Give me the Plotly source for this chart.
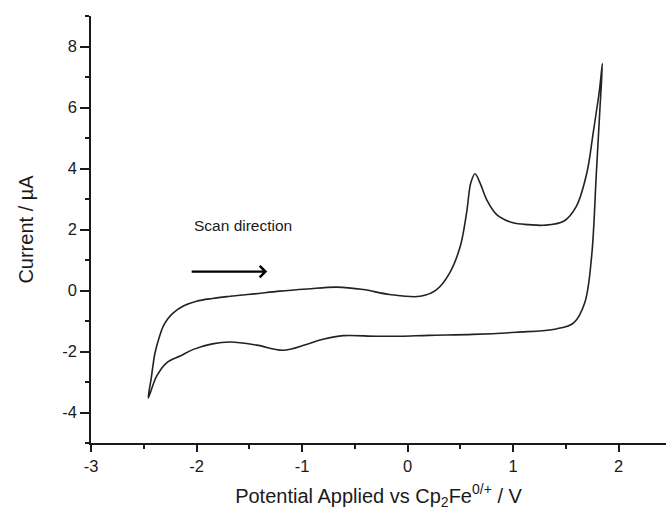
import plotly.graph_objects as go

# Forward (upper) scan branch
potential_fwd = [-2.457, -2.43, -2.393, -2.35, -2.315, -2.27, -2.22, -2.12, -2.0, -1.85,
                 -1.68, -1.45, -1.21, -0.95, -0.67, -0.42, -0.17, 0.12, 0.276, 0.40,
                 0.50, 0.56, 0.60, 0.64, 0.687, 0.75, 0.845, 1.0, 1.15, 1.29,
                 1.48, 1.60, 1.70, 1.76, 1.82, 1.847]
current_fwd = [-3.52, -2.9, -2.04, -1.5, -1.17, -0.92, -0.73, -0.5, -0.35, -0.26,
               -0.19, -0.11, -0.02, 0.05, 0.11, 0.03, -0.13, -0.19, 0.03, 0.58,
               1.45, 2.55, 3.53, 3.83, 3.53, 2.98, 2.49, 2.22, 2.16, 2.14,
               2.27, 2.76, 3.86, 5.17, 6.59, 7.44]

# Reverse (lower) scan branch
potential_rev = [1.847, 1.825, 1.79, 1.745, 1.68, 1.575, 1.41, 1.03, 0.62, 0.2,
                 -0.07, -0.3, -0.61, -0.8, -0.96, -1.18, -1.43, -1.68, -1.85, -2.03,
                 -2.156, -2.283, -2.378, -2.457]
current_rev = [7.44, 6.04, 3.86, 1.12, -0.40, -1.06, -1.26, -1.37, -1.44, -1.47,
               -1.50, -1.50, -1.48, -1.6, -1.77, -1.96, -1.79, -1.69, -1.75, -1.93,
               -2.15, -2.37, -2.81, -3.52]

x_ticks = [-3, -2, -1, 0, 1, 2]
y_ticks = [-4, -2, 0, 2, 4, 6, 8]

FONT = "Liberation Sans, Arial, sans-serif"
INK = "#1a1a1a"

fig = go.Figure()
fig.add_trace(go.Scatter(
    x=potential_fwd + potential_rev[1:],
    y=current_fwd + current_rev[1:],
    mode="lines",
    line=dict(color="#222222", width=1.6, shape="spline", smoothing=1.0),
    showlegend=False,
    hoverinfo="skip",
))

fig.add_annotation(
    x=-2.04, y=2.14, xref="x", yref="y",
    text="Scan direction", showarrow=False,
    xanchor="left", yanchor="middle",
    font=dict(family=FONT, size=15.5, color=INK),
)
fig.add_annotation(
    x=-1.33, y=0.62, ax=-2.06, ay=0.62,
    xref="x", yref="y", axref="x", ayref="y",
    text="", showarrow=True, arrowhead=4, arrowsize=1.0, arrowwidth=2.2,
    arrowcolor="#000000",
)

axis_common = dict(
    showline=True, linecolor=INK, linewidth=1.5,
    ticks="outside", tickcolor=INK, tickwidth=1.5,
    showgrid=False, zeroline=False,
    tickfont=dict(family=FONT, size=16.5, color=INK),
)

fig.update_xaxes(
    range=[-3, 2.45], tickmode="array", tickvals=x_ticks,
    ticktext=[str(v) for v in x_ticks], ticklen=7,
    minor=dict(ticks="outside", dtick=0.5, tick0=-3, ticklen=4, tickcolor=INK, tickwidth=1.5),
    title=dict(text="Potential Applied vs Cp<sub>2</sub>Fe<sup>0/+</sup> / V",
               font=dict(family=FONT, size=20, color=INK), standoff=15),
    **axis_common,
)
fig.update_yaxes(
    range=[-5, 9], tickmode="array", tickvals=y_ticks,
    ticktext=[str(v) for v in y_ticks], ticklen=9,
    minor=dict(ticks="outside", dtick=1, tick0=-5, ticklen=4, tickcolor=INK, tickwidth=1.5),
    title=dict(text="Current / µA",
               font=dict(family=FONT, size=20, color=INK), standoff=23),
    **axis_common,
)

fig.update_layout(
    width=666, height=515,
    margin=dict(l=91, r=0, t=16, b=72),
    paper_bgcolor="white", plot_bgcolor="white",
    font=dict(family=FONT, color=INK),
)

fig.write_html("out.html", config={"displayModeBar": False},
               post_script="document.body.style.margin='0';")
